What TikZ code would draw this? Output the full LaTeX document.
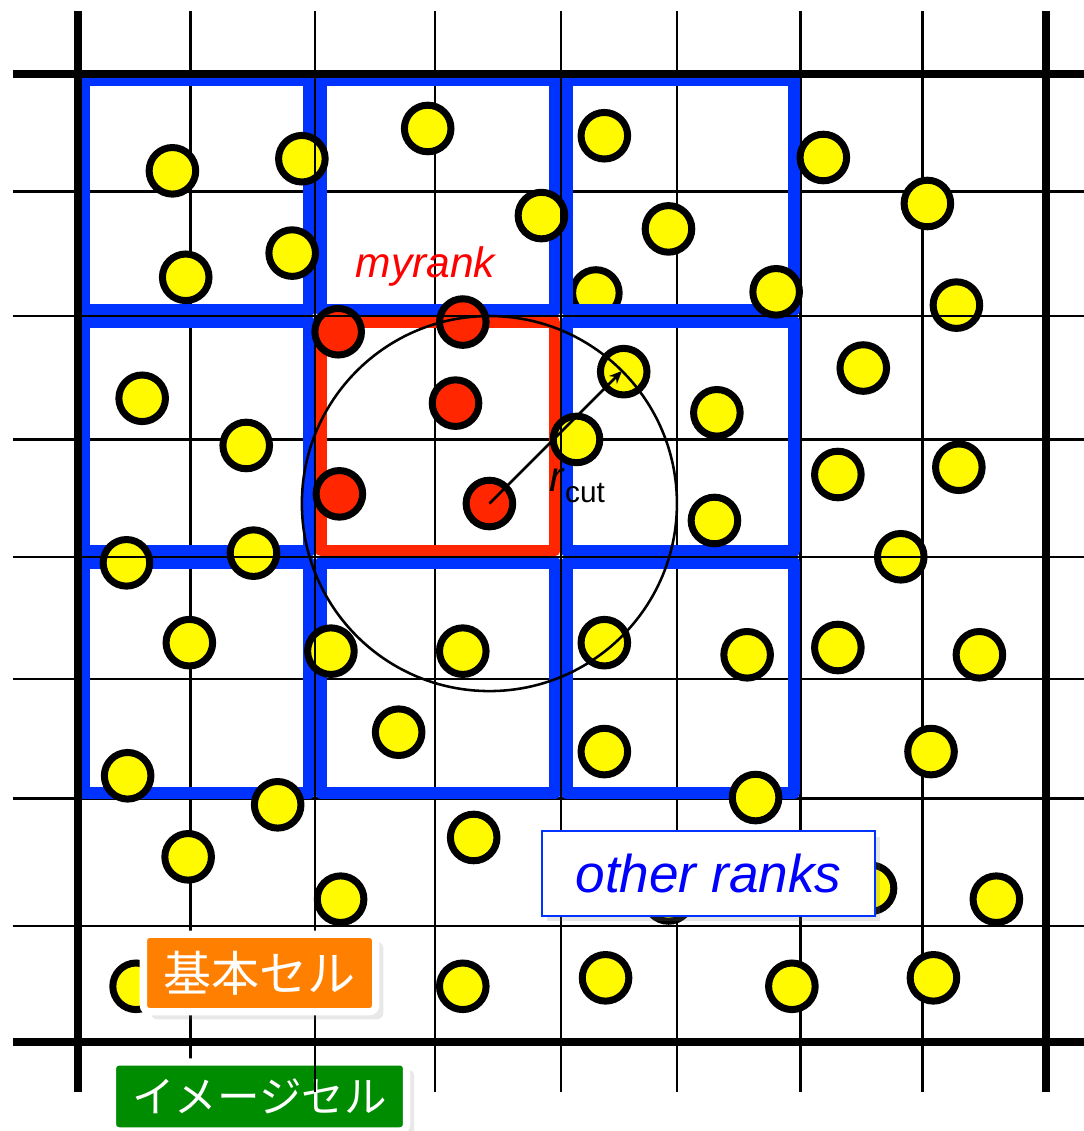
\documentclass[tikz,border=0pt]{standalone}
\usepackage{fontspec}
\setmainfont{Liberation Sans}
\newfontfamily\jpfont{Noto Sans CJK JP}
\usetikzlibrary{arrows.meta,shadows}
\definecolor{ptyellow}{RGB}{255,250,0}
\definecolor{rankblue}{RGB}{0,51,255}
\definecolor{rankred}{RGB}{255,38,0}
\definecolor{cellorange}{RGB}{255,128,0}
\definecolor{cellgreen}{RGB}{0,140,0}

\begin{document}
\begin{tikzpicture}[
    thinline/.style={line width=0.6pt},
    thickline/.style={line width=1.8pt},
    rankbox/.style={draw=rankblue, line width=2.8pt, line join=round},
    myrankbox/.style={draw=rankred, line width=2.7pt, line join=round},
    ptcl/.style={draw, circle, line width=1.65pt, fill=ptyellow, minimum size=0.385cm, inner sep=0pt},
    myptcl/.style={ptcl, fill=rankred},
    cellbox/.style={draw=white, line width=0.06cm, rounded corners=1.5pt, text=white, inner sep=0pt,
        drop shadow={shadow xshift=1.8pt, shadow yshift=-1.8pt, opacity=0.18}},
    >={Stealth[length=3pt,width=2.6pt]}
    ]
    \useasboundingbox (-0.645,-0.736) rectangle (8.314,8.612);

    % cell grid
    \foreach \x in {0.93,2.95,4.95,5.97,6.98}
        \draw[thinline] (\x,-0.41) -- (\x,8.52);
    \foreach \y in {0.96,2.01,3.0,4.98,7.03}
        \draw[thinline] (-0.54,\y) -- (8.32,\y);

    \node[ptcl] (p9) at (4.28,6.19) {};

    % rank domains
    \draw[rankbox] (0.05,6.05) rectangle (1.91,7.95);
    \draw[rankbox] (2.01,6.05) rectangle (3.94,7.95);
    \draw[rankbox] (4.04,6.05) rectangle (5.92,7.95);
    \draw[rankbox] (0.05,4.06) rectangle (1.91,5.95);
    \draw[rankbox] (4.04,4.06) rectangle (5.92,5.95);
    \draw[rankbox] (0.05,2.06) rectangle (1.91,3.96);
    \draw[rankbox] (2.01,2.06) rectangle (3.94,3.96);
    \draw[rankbox] (4.04,2.06) rectangle (5.92,3.96);
    \draw[myrankbox] (2.01,4.06) rectangle (3.94,5.95);

    % particles
    \node[ptcl] (p1) at (0.78,7.20) {};
    \node[ptcl] (p2) at (1.85,7.30) {};
    \node[ptcl] (p3) at (0.89,6.32) {};
    \node[ptcl] (p4) at (1.77,6.52) {};
    \node[ptcl] (p5) at (2.89,7.55) {};
    \node[ptcl] (p6) at (3.83,6.83) {};
    \node[ptcl] (p7) at (4.35,7.49) {};
    \node[ptcl] (p8) at (4.88,6.72) {};
    \node[ptcl] (p10) at (5.77,6.20) {};
    \node[ptcl] (p11) at (6.16,7.31) {};
    \node[ptcl] (p12) at (7.02,6.93) {};
    \node[ptcl] (p13) at (7.26,6.09) {};
    \node[ptcl] (p14) at (0.53,5.32) {};
    \node[ptcl] (p15) at (1.39,4.93) {};
    \node[ptcl] (p16) at (4.51,5.54) {};
    \node[ptcl] (p17) at (4.12,4.98) {};
    \node[ptcl] (p18) at (5.28,5.20) {};
    \node[ptcl] (p19) at (6.49,5.57) {};
    \node[ptcl] (p20) at (6.28,4.69) {};
    \node[ptcl] (p21) at (7.28,4.75) {};
    \node[ptcl] (p22) at (5.26,4.31) {};
    \node[ptcl] (p23) at (0.40,3.96) {};
    \node[ptcl] (p24) at (1.45,4.04) {};
    \node[ptcl] (p25) at (6.80,4.01) {};
    \node[ptcl] (p26) at (0.92,3.30) {};
    \node[ptcl] (p27) at (2.09,3.23) {};
    \node[ptcl] (p28) at (3.18,3.23) {};
    \node[ptcl] (p29) at (4.35,3.30) {};
    \node[ptcl] (p30) at (5.53,3.20) {};
    \node[ptcl] (p31) at (6.28,3.26) {};
    \node[ptcl] (p32) at (7.45,3.20) {};
    \node[ptcl] (p33) at (2.65,2.56) {};
    \node[ptcl] (p34) at (4.35,2.40) {};
    \node[ptcl] (p35) at (7.05,2.40) {};
    \node[ptcl] (p36) at (0.41,2.20) {};
    \node[ptcl] (p37) at (1.65,1.96) {};
    \node[ptcl] (p38) at (5.60,2.02) {};
    \node[ptcl] (p39) at (0.91,1.53) {};
    \node[ptcl] (p40) at (3.27,1.69) {};
    \node[ptcl] (p41) at (2.17,1.18) {};
    \node[ptcl] (p42) at (4.88,1.19) {};
    \node[ptcl] (p43) at (6.55,1.27) {};
    \node[ptcl] (p44) at (7.59,1.18) {};
    \node[ptcl] (p45) at (0.48,0.46) {};
    \node[ptcl] (p46) at (3.18,0.46) {};
    \node[ptcl] (p47) at (4.36,0.53) {};
    \node[ptcl] (p48) at (5.90,0.46) {};
    \node[ptcl] (p49) at (7.07,0.53) {};

    \node[myptcl] (r1) at (2.15,5.87) {};
    \node[myptcl] (r2) at (3.18,5.95) {};
    \node[myptcl] (r3) at (3.12,5.28) {};
    \node[myptcl] (r4) at (2.16,4.53) {};
    \node[myptcl] (r5) at (3.40,4.45) {};

    % basic cell
    \draw[thickline] (0,-0.41) -- (0,8.52);
    \draw[thickline] (8,-0.41) -- (8,8.52);
    \draw[thickline] (-0.54,0) -- (8.32,0);
    \draw[thickline] (-0.54,8) -- (8.32,8);

    \node[cellbox, fill=cellgreen, minimum width=2.43cm, minimum height=0.57cm,
        font=\jpfont\fontsize{10}{12}\selectfont] (image) at (1.50,-0.45) {イメージセル};

    % domain borders
    \foreach \x in {1.96,3.99}
        \draw[thinline] (\x,-0.41) -- (\x,8.52);
    \foreach \y in {4.01,6.0}
        \draw[thinline] (-0.54,\y) -- (8.32,\y);

    % cut-off sphere
    \coordinate (rc) at ([shift={(45:1.55)}]r5.center);
    \draw[thinline] (r5.center) circle (1.55);
    \draw[thinline, ->] (r5.center) -- (rc);
    \node[anchor=base west, inner sep=0pt, font=\fontsize{10}{12}\selectfont] (rcut) at (3.89,4.55)
        {\textit{r}\raisebox{-2.6pt}{\fontsize{7}{8}\selectfont cut}};

    \node[draw=rankblue, fill=white, line width=0.5pt, minimum width=2.75cm, minimum height=0.7cm,
        text=blue, font=\itshape\fontsize{12.5}{15}\selectfont,
        drop shadow={shadow xshift=1.2pt, shadow yshift=-1.2pt, opacity=0.2}] (others) at (5.21,1.39) {other ranks};
    \node[cellbox, fill=cellorange, minimum width=1.92cm, minimum height=0.64cm,
        font=\jpfont\fontsize{11.3}{13}\selectfont] (basic) at (1.50,0.57) {基本セル};
    \node[anchor=base, text=red, font=\itshape\fontsize{10}{12}\selectfont] (myrank) at (2.87,6.32) {myrank};

\end{tikzpicture}
\end{document}
